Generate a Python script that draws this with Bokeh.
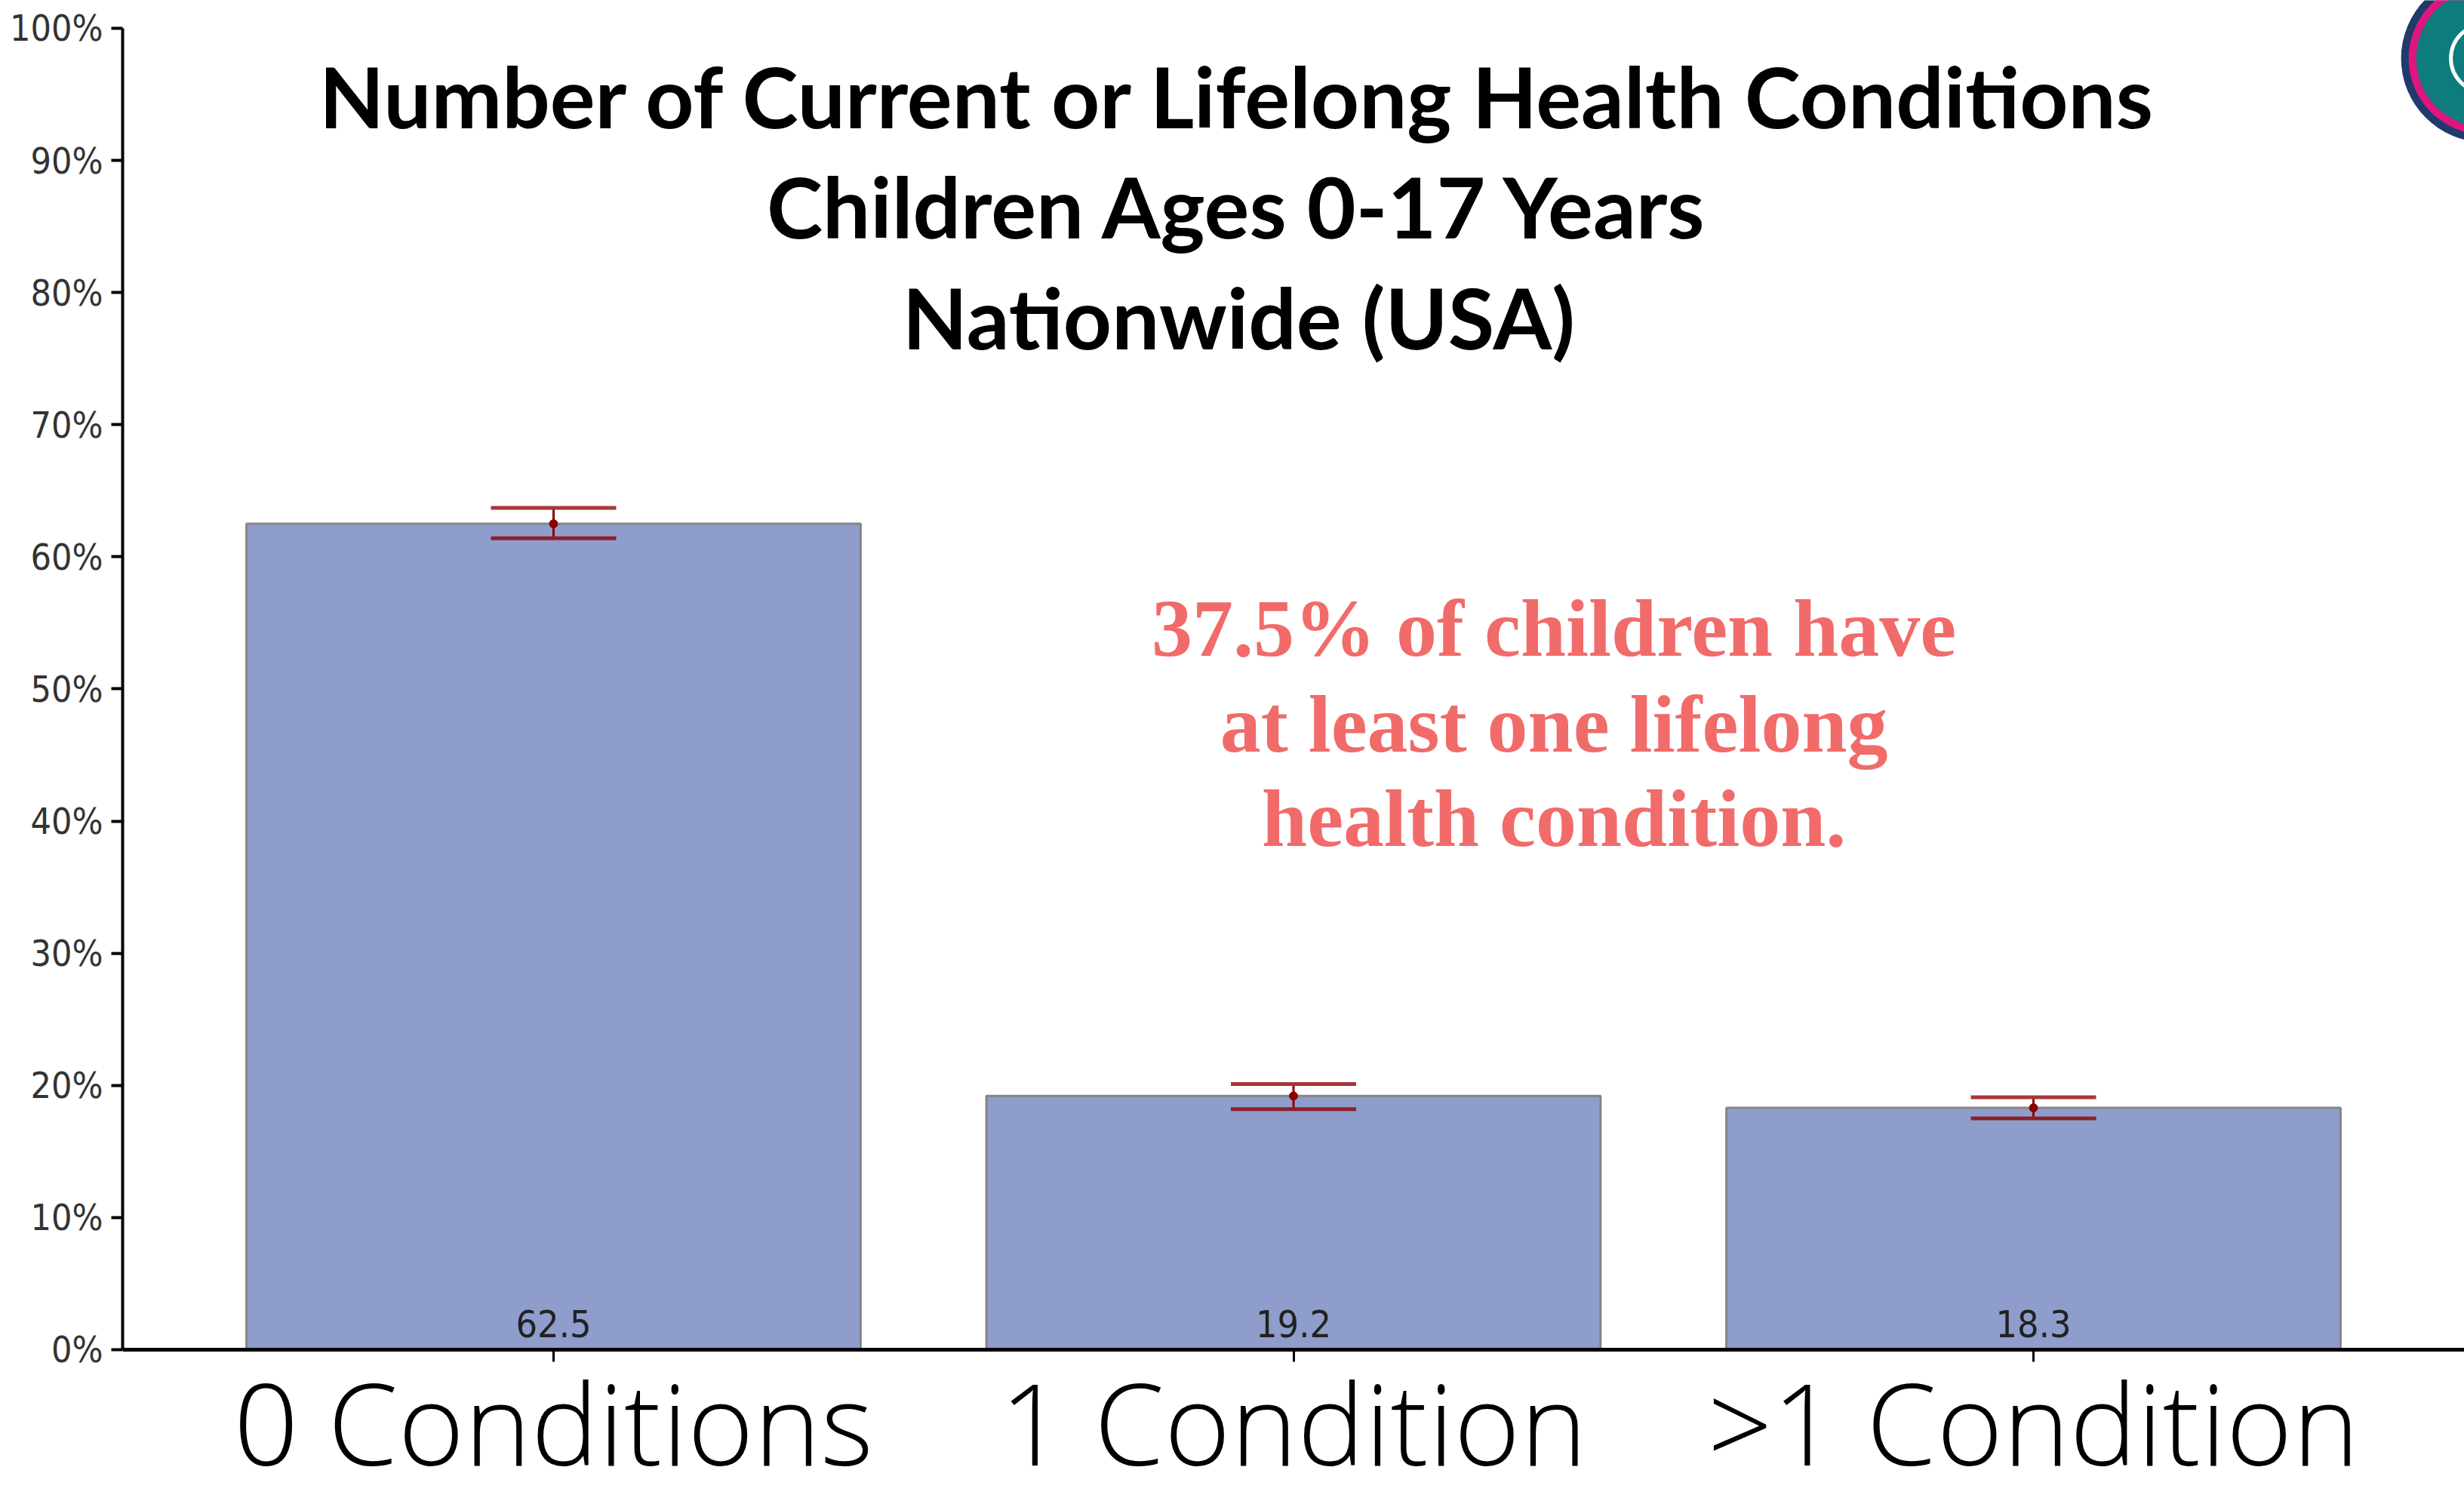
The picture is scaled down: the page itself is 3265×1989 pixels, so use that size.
from bokeh.plotting import figure
from bokeh.models import (ColumnDataSource, FactorRange, FixedTicker, Range1d,
                          Whisker, TeeHead, Label)
from bokeh.core.properties import value
from bokeh.embed import file_html
from bokeh.resources import INLINE

# ---------------- data ----------------
categories = ["0 Conditions", "1 Condition", ">1 Condition"]
percent = [62.5, 19.2, 18.3]
ci_lower = [61.4, 18.2, 17.5]
ci_upper = [63.7, 20.1, 19.1]
value_labels = ["62.5", "19.2", "18.3"]

y_ticks = [0, 10, 20, 30, 40, 50, 60, 70, 80, 90, 100]
y_tick_labels = ["0%", "10%", "20%", "30%", "40%", "50%",
                 "60%", "70%", "80%", "90%", "100%"]

title_lines = ["Number of Current or Lifelong Health Conditions",
               "Children Ages 0-17 Years",
               "Nationwide (USA)"]
note_lines = ["37.5% of children have",
              "at least one lifelong",
              "health condition."]

# ---------------- layout ----------------
W, H = 3265, 1989
FRAME_LEFT = 162
NARROW = "Liberation Sans Narrow, DejaVu Sans Condensed, sans-serif"

src = ColumnDataSource(dict(cat=categories, pct=percent, lo=ci_lower,
                            hi=ci_upper, lab=value_labels))

p = figure(width=W, height=H, output_backend="svg", toolbar_location=None,
           x_range=FactorRange(*categories, range_padding=0.0549),
           y_range=Range1d(-11.48, 102.11),
           min_border_left=FRAME_LEFT, min_border_right=0,
           min_border_top=0, min_border_bottom=0,
           background_fill_color="white", border_fill_color="white")
p.outline_line_color = None
p.xgrid.visible = False
p.ygrid.visible = False

# bars
p.vbar(x="cat", top="pct", width=0.83, source=src,
       fill_color="#8F9DCC", line_color="#858585", line_width=3)

# value labels at bar base
p.text(x="cat", y=0, text="lab", source=src, y_offset=-34,
       text_align="center", text_baseline="alphabetic",
       text_font=value(NARROW), text_font_size="50px", text_color="#222222")

# error bars
whisk = Whisker(source=src, base="cat", upper="hi", lower="lo",
                line_color="#8B0000", line_width=3, level="overlay",
                upper_head=TeeHead(size=166, line_color="#A8363B", line_width=5),
                lower_head=TeeHead(size=166, line_color="#8E1F2C", line_width=5))
p.add_layout(whisk)
p.scatter(x="cat", y="pct", source=src, marker="circle", size=11,
          fill_color="#8B0000", line_color="#8B0000")

# logo (partial circle at top-right)
for sz, col in [(222, "#1F3A6B"), (202, "#E0157F"), (182, "#0E7C7B")]:
    p.scatter(x=[3.110], y=[97.72], marker="circle", size=sz,
              fill_color=col, line_color=None)
p.scatter(x=[3.110], y=[97.72], marker="circle", size=90,
          fill_color=None, line_color="white", line_width=5)

# axes
p.yaxis.ticker = FixedTicker(ticks=y_ticks)
p.yaxis.major_label_overrides = {t: l for t, l in zip(y_ticks, y_tick_labels)}
p.yaxis.bounds = (0, 100)
p.yaxis.axis_line_width = 4
p.yaxis.axis_line_color = "black"
p.yaxis.major_tick_line_width = 4
p.yaxis.major_tick_line_color = "black"
p.yaxis.major_tick_out = 15
p.yaxis.major_tick_in = 0
p.yaxis.minor_tick_line_color = None
p.yaxis.major_label_standoff = 11
p.yaxis.major_label_text_font = NARROW
p.yaxis.major_label_text_font_size = "48px"
p.yaxis.major_label_text_color = "#333333"

p.xaxis.fixed_location = 0
p.xaxis.axis_line_width = 5
p.xaxis.axis_line_color = "black"
p.xaxis.major_tick_line_width = 3
p.xaxis.major_tick_line_color = "black"
p.xaxis.major_tick_out = 16
p.xaxis.major_tick_in = 0
p.xaxis.major_label_standoff = -22
p.xaxis.major_label_text_font = "Open Sans Light, Open Sans, sans-serif"
p.xaxis.major_label_text_font_size = "150px"
p.xaxis.major_label_text_color = "black"

# title lines
for txt, yy in zip(title_lines, [94.9, 86.55, 78.2]):
    p.add_layout(Label(x=1.426, y=yy, text=txt, text_align="center",
                       text_baseline="alphabetic", text_font="Lato",
                       text_font_style="bold", text_font_size="112px",
                       text_color="black"))

# annotation
for txt, yy in zip(note_lines, [54.6, 47.34, 40.2]):
    p.add_layout(Label(x=1.852, y=yy, text=txt, text_align="center",
                       text_baseline="alphabetic",
                       text_font="Liberation Serif", text_font_style="bold",
                       text_font_size="108px", text_color="#F06B69"))

open("out.html", "w").write(file_html(p, INLINE))
